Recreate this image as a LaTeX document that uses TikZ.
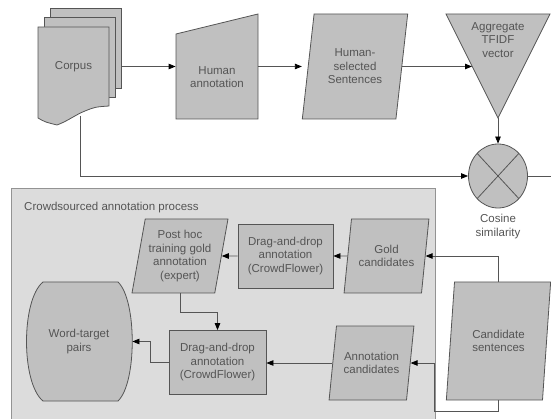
\documentclass[tikz,border=0pt]{standalone}
\usepackage{fontspec}
\setmainfont{Liberation Sans}
\usetikzlibrary{arrows.meta,shapes.geometric,calc}
\definecolor{shapegray}{HTML}{C0C0C0}
\definecolor{boxgray}{HTML}{DCDCDC}
\definecolor{edgegray}{HTML}{555555}
\definecolor{txtgray}{HTML}{555555}
\begin{document}
\begin{tikzpicture}[x=1pt,y=-1pt,>={Triangle[length=7pt,width=5.5pt,color=black]},line width=0.8pt,
	every node/.style={font=\fontsize{11.5}{13.5}\selectfont,text=txtgray,align=center},
	shp/.style={draw=edgegray,fill=shapegray},
	proc/.style={shp,rectangle},
	para/.style={shp,trapezium,trapezium left angle=78,trapezium right angle=102,trapezium stretches=true,inner xsep=1pt},
	conn/.style={draw=edgegray,->}]
	\useasboundingbox (0,0) rectangle (551,419);
	\clip (0,0) rectangle (551,419);
	% crowdsourcing frame
	\filldraw[draw=gray!85,fill=boxgray] (11,188) rectangle (435,430);
	\node[anchor=west] (crowdt) at (20.5,208) {Crowdsourced annotation process};
	% corpus (stacked pages)
	\filldraw[shp] (50,8) rectangle (121,88);
	\filldraw[shp] (44,17) rectangle (115,97);
	\filldraw[shp] (38,27)--(109,27)--(109,106) .. controls (95,107) .. (85,111) .. controls (75,115) and (68,121) .. (57,125) .. controls (45,122) .. (38,118)--cycle;
	\node[minimum width=71pt] (corpus) at (73.5,66.5) {Corpus};
	\coordinate (wave) at (80,116);
	% manual input
	\filldraw[shp] (176,34)--(258,14)--(258,119)--(176,119)--cycle;
	\node[minimum width=82pt] (hum) at (217,77) {Human\\annotation};
	\node[para,minimum width=106pt,minimum height=105pt,trapezium left angle=79,trapezium right angle=101] (sel) at (355,66.5) {Human-\\selected\\Sentences};
	% merge triangle
	\coordinate (tl) at (446,14);
	\coordinate (tr) at (550,14);
	\coordinate (tb) at (498,118);
	\coordinate (tw) at ($(tl)!.5!(tb)$);
	\filldraw[shp] (tl)--(tr)--(tb)--cycle;
	\node (tfidf) at (498,40) {Aggregate\\TFIDF\\vector};
	\node[shp,ellipse,minimum width=59pt,minimum height=64pt,
		path picture={\draw[edgegray] (path picture bounding box.north west)--(path picture bounding box.south east)
		(path picture bounding box.north east)--(path picture bounding box.south west);}] (cos) at (498,176) {};
	\node (coslbl) at (498,226.5) {Cosine\\similarity};
	\coordinate (exit) at (556,176);
	% crowd steps
	\node[para,minimum width=85pt,minimum height=74pt] (gold) at (386.5,256) {Gold\\candidates};
	\node[proc,minimum width=95pt,minimum height=64pt] (dnd1) at (285.5,256) {Drag-and-drop\\annotation\\(CrowdFlower)};
	\node[para,minimum width=96pt,minimum height=74pt] (posthoc) at (180,256) {Post hoc\\training gold\\annotation\\(expert)};
	\node[proc,minimum width=97pt,minimum height=64pt] (dnd2) at (217.5,362.5) {Drag-and-drop\\annotation\\(CrowdFlower)};
	\filldraw[shp] (43,282)--(118,282) .. controls (137,300) and (137,383) .. (118,401)--(43,401) .. controls (21,383) and (21,300) .. (43,282)--cycle;
	\node[minimum width=106pt,minimum height=119pt] (wtp) at (79,341.5) {Word-target\\pairs};
	\node[para,minimum width=85pt,minimum height=74pt] (anncand) at (371.5,363) {Annotation\\candidates};
	\node[para,minimum width=105pt,minimum height=118pt,trapezium left angle=80,trapezium right angle=100] (candsent) at (498.5,341) {Candidate\\sentences};
	% connectors
	\draw[conn] ([xshift=12pt]corpus.east)--(corpus.east -| hum.west);
	\draw[conn] (hum.east |- sel.west)--(sel.bottom left corner |- sel.west);
	\draw[conn] (sel.east)--(sel.east -| tw);
	\draw[conn] (tb)--(cos);
	\draw[conn] (wave) |- (cos);
	\draw[edgegray] (cos.east)--(exit);
	\draw[conn] (candsent.center |- candsent.north) |- (gold.east);
	\draw[conn] (gold.west)--(dnd1.east);
	\draw[conn] (dnd1.west)--(posthoc.east);
	\draw[conn] (posthoc.center |- posthoc.south)--++(0,19) -| (dnd2.north);
	\draw[conn] (dnd2.west)--++(-18,0) |- (wtp.east);
	\draw[conn] (anncand.west)--(anncand.west -| dnd2.east);
	\draw[conn] (candsent.south)--++(0,11) -| ($(anncand.east)+(24,0)$)--(anncand.east);
\end{tikzpicture}
\end{document}
